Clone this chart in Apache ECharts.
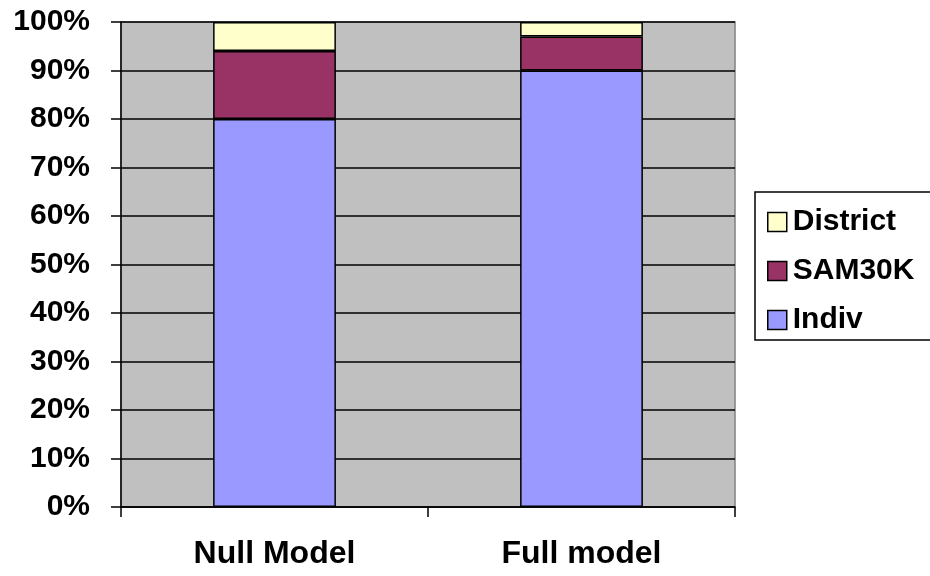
<!DOCTYPE html>
<html>
<head>
<meta charset="utf-8">
<script src="https://cdn.jsdelivr.net/npm/echarts@6/dist/echarts.min.js"></script>
<style>
    html, body { margin: 0; padding: 0; background: #fff; }
    #chart { width: 930px; height: 576px; }
</style>
</head>
<body>
<div id="chart"></div>
<script>

const categories = ['Null Model', 'Full model'];

const indiv = [80, 90];
const sam30k = [14, 7];
const district = [6, 3];

const yTicks = [0, 10, 20, 30, 40, 50, 60, 70, 80, 90, 100];

const font = 'Liberation Sans, Arial, sans-serif';

const chart = echarts.init(document.getElementById('chart'));

const barStyle = (color) => {
    return {
        color: color,
        borderColor: '#000',
        borderWidth: 1.5,
    };
};

chart.setOption({
    animation: false,
    grid: {
        left: 121,
        right: 195,
        top: 22,
        bottom: 69,
        show: true,
        backgroundColor: '#C0C0C0',
        borderColor: '#808080',
        borderWidth: 1.5,
    },
    legend: {
        orient: 'vertical',
        left: 755,
        top: 192,
        data: ['District', 'SAM30K', 'Indiv'],
        icon: 'rect',
        itemWidth: 19,
        itemHeight: 19,
        itemGap: 19,
        padding: [15, 20, 5, 12],
        borderColor: '#000',
        borderWidth: 1.5,
        backgroundColor: '#fff',
        itemStyle: {
            borderColor: '#000',
            borderWidth: 1.5,
        },
        textStyle: {
            fontFamily: font,
            fontWeight: 'bold',
            fontSize: 30,
            lineHeight: 29,
            color: '#000',
            padding: [0, 0, 0, 1],
        },
    },
    xAxis: {
        type: 'category',
        data: categories,
        axisLine: { lineStyle: { color: '#000', width: 1.5 } },
        axisTick: { show: true, length: 10, lineStyle: { color: '#000', width: 1.5 } },
        axisLabel: {
            margin: 31,
            fontFamily: font,
            fontWeight: 'bold',
            fontSize: 32,
            color: '#000',
        },
    },
    yAxis: {
        type: 'value',
        min: yTicks[0],
        max: yTicks[yTicks.length - 1],
        interval: 10,
        axisLine: { show: true, lineStyle: { color: '#000', width: 1.5 } },
        axisTick: { show: true, length: 10, lineStyle: { color: '#000', width: 1.5 } },
        splitLine: { lineStyle: { color: '#000', width: 1.5 } },
        axisLabel: {
            formatter: '{value}%',
            margin: 31,
            fontFamily: font,
            fontWeight: 'bold',
            fontSize: 30,
            color: '#000',
        },
    },
    series: [
        {
            name: 'Indiv',
            type: 'bar',
            stack: 'total',
            barWidth: '40%',
            data: indiv,
            itemStyle: barStyle('#9999FF'),
        },
        {
            name: 'SAM30K',
            type: 'bar',
            stack: 'total',
            data: sam30k,
            itemStyle: barStyle('#993366'),
        },
        {
            name: 'District',
            type: 'bar',
            stack: 'total',
            data: district,
            itemStyle: barStyle('#FFFFCC'),
        },
    ],
});

</script>
</body>
</html>
